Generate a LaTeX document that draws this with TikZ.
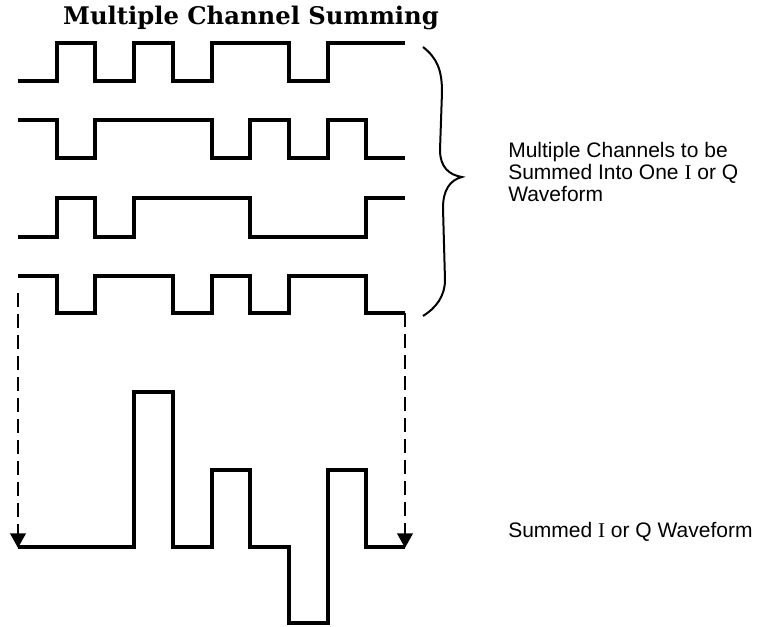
\documentclass[tikz,border=0pt]{standalone}
\usepackage{fontspec}
\newfontfamily\arialf{Liberation Sans}
\newfontfamily\timesf{Liberation Serif}
\newfontfamily\titlef{DejaVu Serif}
\usetikzlibrary{arrows.meta}
\tikzset{
  wave/.style={line width=3pt, line join=miter, line cap=butt},
  sumarrow/.style={line width=2.2pt, dash pattern=on 10.5pt off 5.25pt, -{Triangle[width=11.5pt,length=11pt]}},
  bracestyle/.style={line width=1.5pt},
  label/.style={font=\arialf\fontsize{15.75}{16.5}\selectfont, inner sep=0pt, align=left},
  titlestyle/.style={font=\titlef\bfseries\fontsize{18.2}{22}\selectfont, inner sep=0pt}
}
\begin{document}
\begin{tikzpicture}[x=0.75pt,y=-0.75pt]
\useasboundingbox (0,0) rectangle (757,626);
% title
\node[titlestyle, anchor=base] (title) at (251,24) {Multiple Channel Summing};
% waveform 1
\draw[wave] (18,81) -- (56.7,81) -- (56.7,43) -- (95.4,43) -- (95.4,81) -- (134.1,81) -- (134.1,43) -- (172.8,43) -- (172.8,81) -- (211.5,81) -- (211.5,43) -- (288.9,43) -- (288.9,81) -- (327.6,81) -- (327.6,43) -- (405,43);
% waveform 2
\draw[wave] (18,120) -- (56.7,120) -- (56.7,158) -- (95.4,158) -- (95.4,120) -- (211.5,120) -- (211.5,158) -- (250.2,158) -- (250.2,120) -- (288.9,120) -- (288.9,158) -- (327.6,158) -- (327.6,120) -- (366.3,120) -- (366.3,158) -- (405,158);
% waveform 3
\draw[wave] (18,237) -- (56.7,237) -- (56.7,198) -- (95.4,198) -- (95.4,237) -- (134.1,237) -- (134.1,198) -- (250.2,198) -- (250.2,237) -- (366.3,237) -- (366.3,198) -- (405,198);
% waveform 4
\draw[wave] (18,276) -- (56.7,276) -- (56.7,313) -- (95.4,313) -- (95.4,276) -- (172.8,276) -- (172.8,313) -- (211.5,313) -- (211.5,276) -- (250.2,276) -- (250.2,313) -- (288.9,313) -- (288.9,276) -- (366.3,276) -- (366.3,313) -- (405,313);
% summed waveform
\draw[wave] (18,547) -- (134.1,547) -- (134.1,392) -- (172.8,392) -- (172.8,547) -- (211.5,547) -- (211.5,470) -- (250.2,470) -- (250.2,547) -- (288.9,547) -- (288.9,623) -- (327.6,623) -- (327.6,470) -- (366.3,470) -- (366.3,547) -- (405,547);
% connector end points
\coordinate (w4l) at (18,293);
\coordinate (w4r) at (405,313);
\coordinate (sl) at (18,548);
\coordinate (sr) at (405,548);
\draw[sumarrow] (w4l) -- (sl);
\draw[sumarrow] (w4r) -- (sr);
% brace
\draw[bracestyle] (423,47) .. controls (437,58) and (442,70) .. (442,92) -- (440,150) .. controls (440,167) and (449,175) .. (462,177) .. controls (450,180) and (443,190) .. (443,208) -- (445,280) .. controls (445,296) and (436,308) .. (423,316);
% labels
\node[label, anchor=north west] (chlabel) at (508,142) {Multiple Channels to be\\Summed Into One {\timesf I} or Q\\Waveform};
\node[label, anchor=base west] (sumlabel) at (508,537) {Summed {\timesf I} or Q Waveform};
\end{tikzpicture}
\end{document}
